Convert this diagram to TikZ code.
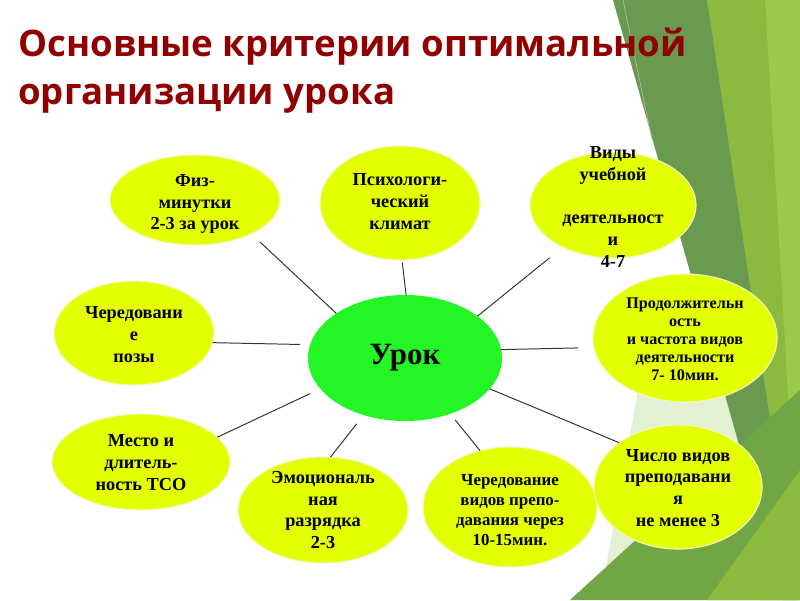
\documentclass[tikz,border=0pt]{standalone}
\usepackage{fontspec}
\setmainfont{Liberation Serif}
\newfontfamily\titlefont{Open Sans}
\usetikzlibrary{shapes.geometric}
\definecolor{ttlred}{RGB}{145,0,0}
\definecolor{bubfill}{RGB}{228,255,0}
\definecolor{bubedge}{RGB}{240,250,190}
\definecolor{corefill}{RGB}{36,245,36}
\definecolor{fdark}{RGB}{106,154,80}
\definecolor{flight}{RGB}{140,186,62}
\definecolor{flime}{RGB}{156,201,74}
\definecolor{fmid}{RGB}{112,166,68}
\definecolor{fpale}{RGB}{228,240,212}
\tikzset{
  bubble/.style={ellipse, fill=bubfill, draw=bubedge, line width=0.8pt, inner sep=0pt, outer sep=0pt},
  core/.style={ellipse, fill=corefill, inner sep=0pt, outer sep=0pt},
  txt/.style={align=center, font=\fontsize{13pt}{15.6pt}\selectfont\bfseries, inner sep=0pt},
  ttl/.style={anchor=base west, inner sep=0pt, text=ttlred, font=\titlefont\fontsize{26pt}{30pt}\selectfont\bfseries},
  link/.style={draw=black!80, line width=0.7pt}
}
\begin{document}
\begin{tikzpicture}[x=0.025cm, y=-0.025cm, line join=round]
			\useasboundingbox (0,0) rectangle (800,600);
			\fill[white] (0,0) rectangle (800,600);
			
			% --- Зелёные грани справа ---
			\fill[fpale] (640,380) -- (800,380) -- (800,600) -- (600,600) -- cycle;
			\fill[flight] (707,0) -- (800,0) -- (800,600) -- (760,600) -- cycle;
			\fill[flime] (765,0) -- (800,0) -- (800,600) -- cycle;
			\fill[fdark] (613,0) -- (707,0) -- (797,600) -- (783,600) -- cycle;
			\fill[fmid] (570,600) -- (800,390) -- (800,600) -- cycle;
			\fill[flight] (707,600) -- (800,470) -- (800,600) -- cycle;
			\draw[black!25, line width=0.4pt] (623,0) -- (652,140);
			
			% --- Заголовок ---
			\node[ttl] (title1) at (18,56) {Основные критерии оптимальной};
			\node[ttl] (title2) at (18,104) {организации урока};
			
			% --- Эллипсы ---
			\node[core, minimum width=4.85cm, minimum height=3.15cm] (urok) at (405,358) {};
			\node[bubble, minimum width=4.25cm, minimum height=2.25cm] (fiz) at (195,200) {};
			\node[bubble, minimum width=4.0cm, minimum height=2.85cm] (psih) at (400,203) {};
			\node[bubble, minimum width=4.15cm, minimum height=2.65cm] (vidy) at (613,205) {};
			\node[bubble, minimum width=4.6cm, minimum height=3.2cm] (prod) at (685,338) {};
			\node[bubble, minimum width=4.0cm, minimum height=2.6cm] (poza) at (134,333) {};
			\node[bubble, minimum width=4.45cm, minimum height=2.4cm] (tso) at (141,462) {};
			\node[bubble, minimum width=4.25cm, minimum height=2.65cm] (emo) at (323,510) {};
			\node[bubble, minimum width=4.35cm, minimum height=3.0cm] (cher) at (510,507) {};
			\node[bubble, minimum width=4.2cm, minimum height=3.1cm] (chislo) at (678,487) {};
			
			% --- Соединительные линии ---
			\draw[link, shorten <=0.3cm] (fiz.-31) -- (urok.147);
			\draw[link, shorten <=0.07cm] (psih.-88) -- (urok.89);
			\draw[link, shorten <=0.42cm] (vidy.-140) -- (urok.30);
			\draw[link, shorten >=0.4cm] (urok.5) -- (prod.-174);
			\draw[link, shorten >=0.25cm] (poza.-7) -- (urok.172);
			\draw[link, shorten >=0.28cm] (tso.18) -- (urok.-160);
			\draw[link, shorten >=0.28cm] (emo.82) -- (urok.-126);
			\draw[link, shorten >=0.2cm] (cher.118) -- (urok.-51);
			\draw[link] (chislo.143) -- (urok.-20);
			
			% --- Подписи ---
			\node[txt, font=\fontsize{22pt}{26pt}\selectfont\bfseries] (urokT) at (urok) {Урок};
			\node[txt] (fizT) at (195,204) {Физ-\\минутки\\2-3 за урок};
			\node[txt] (psihT) at (400,202) {Психологи-\\ческий\\климат};
			\node[txt] (vidyT) at (613,207) {Виды\\учебной\\\mbox{}\\деятельност\\и\\4-7};
			\node[txt, font=\fontsize{11.5pt}{12.8pt}\selectfont\bfseries] (prodT) at (685,339) {Продолжительн\\ость\\и частота видов\\деятельности\\7- 10мин.};
			\node[txt] (pozaT) at (134,335) {Чередовани\\е\\позы};
			\node[txt] (tsoT) at (141,463) {Место и\\длитель-\\ность ТСО};
			\node[txt] (emoT) at (323,510) {Эмоциональ\\ная\\разрядка\\2-3};
			\node[txt, font=\fontsize{12pt}{14.2pt}\selectfont\bfseries] (cherT) at (510,510) {Чередование\\видов препо-\\давания через\\10-15мин.};
			\node[txt] (chisloT) at (678,488) {Число видов\\преподавани\\я\\не менее 3};
			
		\end{tikzpicture}
\end{document}
